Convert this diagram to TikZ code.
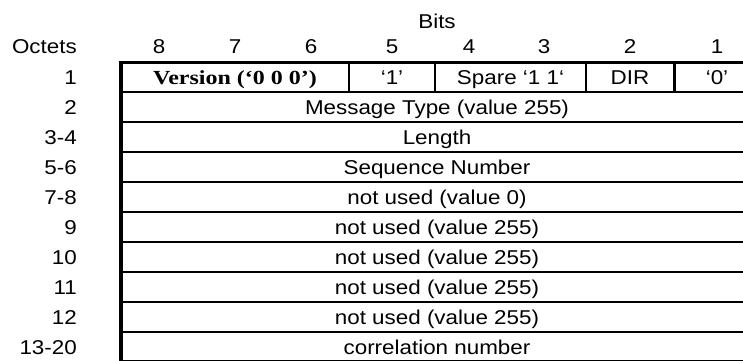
\documentclass[tikz,border=0pt]{standalone}
\usepackage{fontspec}
\setmainfont{Liberation Sans}[FakeStretch=1.12]
\newfontfamily\verfont{Liberation Serif}[FakeStretch=1.2]
\usepackage{tikz}

\tikzset{
  lbl/.style={anchor=base east},
  txt/.style={anchor=base},
  frame/.style={line width=3.5pt},
  rule/.style={line width=2.2pt}
}

\begin{document}
\begin{tikzpicture}[x=1pt, y=-1pt, font=\fontsize{20}{23}\selectfont, inner sep=0pt]

\useasboundingbox (0,0) rectangle (743,360);

\node[txt] (bits) at (437,28) {Bits};
\node[lbl] (octets) at (77,53) {Octets};
\node[txt] (b8) at (159,53) {8};
\node[txt] (b7) at (235,53) {7};
\node[txt] (b6) at (311,53) {6};
\node[txt] (b5) at (392,53) {5};
\node[txt] (b4) at (469,53) {4};
\node[txt] (b3) at (544,53) {3};
\node[txt] (b2) at (630,53) {2};
\node[txt] (b1) at (717,53) {1};

\node[lbl] (o1) at (77,84.5) {1};
\node[lbl] (o2) at (77,114.5) {2};
\node[lbl] (o34) at (77,144.5) {3-4};
\node[lbl] (o56) at (77,174.5) {5-6};
\node[lbl] (o78) at (77,204.5) {7-8};
\node[lbl] (o9) at (77,234.5) {9};
\node[lbl] (o10) at (77,264.5) {10};
\node[lbl] (o11) at (77,294.5) {11};
\node[lbl] (o12) at (77,324.5) {12};
\node[lbl] (o1320) at (77,354.5) {13-20};

\draw[frame] (121,62.5) rectangle (760,362);
\draw[rule] (121,92) -- (760,92);
\draw[rule] (121,122) -- (760,122);
\draw[rule] (121,152) -- (760,152);
\draw[rule] (121,182) -- (760,182);
\draw[rule] (121,212) -- (760,212);
\draw[rule] (121,242) -- (760,242);
\draw[rule] (121,272) -- (760,272);
\draw[rule] (121,302) -- (760,302);
\draw[rule] (121,332) -- (760,332);
\draw[rule] (349,62.5) -- (349,92);
\draw[rule] (435,62.5) -- (435,92);
\draw[rule] (586,62.5) -- (586,92);
\draw[rule] (674.5,62.5) -- (674.5,92);

\node[txt] (version) at (235,84.5) {\verfont\bfseries Version (‘0 0 0’)};
\node[txt] (one) at (392,84.5) {‘1’};
\node[txt] (spare) at (510.5,84.5) {Spare ‘1 1‘};
\node[txt] (dir) at (630,84.5) {DIR};
\node[txt] (zero) at (717,84.5) {‘0’};

\node[txt] (msgtype) at (437,114.5) {Message Type (value 255)};
\node[txt] (length) at (437,144.5) {Length};
\node[txt] (seqno) at (437,174.5) {Sequence Number};
\node[txt] (unused0) at (437,204.5) {not used (value 0)};
\node[txt] (unused9) at (437,234.5) {not used (value 255)};
\node[txt] (unused10) at (437,264.5) {not used (value 255)};
\node[txt] (unused11) at (437,294.5) {not used (value 255)};
\node[txt] (unused12) at (437,324.5) {not used (value 255)};
\node[txt] (corr) at (437,354.5) {correlation number};

\end{tikzpicture}
\end{document}
